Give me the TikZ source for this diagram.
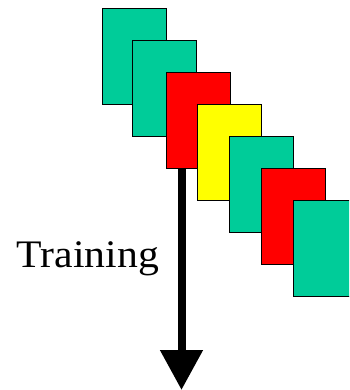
\documentclass[tikz,border=0pt]{standalone}
\usepackage{fontspec}
\setmainfont{Liberation Serif}
\usetikzlibrary{arrows.meta}
\definecolor{cardgreen}{RGB}{0,204,153}
\definecolor{cardred}{RGB}{255,0,0}
\definecolor{cardyellow}{RGB}{255,255,0}

\begin{document}
\begin{tikzpicture}[x=1pt,y=-1pt,
  card/.style={draw=black,line width=0.8pt,minimum width=64pt,minimum height=96pt,inner sep=0pt,anchor=north west}]
\useasboundingbox (0,0) rectangle (349,390);
\clip (0,0) rectangle (349,390);
% cascade of cards, later ones on top
\foreach \i/\x/\y/\c in {1/102.3/8.3/cardgreen,2/132.3/40.3/cardgreen,3/166.3/72.3/cardred,
  4/197.3/104.3/cardyellow,5/229.3/136.3/cardgreen,6/261.3/168.3/cardred,7/293.3/200.3/cardgreen}
  \node[card,fill=\c](c\i)at(\x,\y){};
\coordinate(tip)at(181.5,390);
\draw[line width=8pt,-{Triangle[width=41pt,length=40pt]}]([xshift=15.2pt]c3.south west)--(tip);
\node[font=\fontsize{39}{39}\selectfont,anchor=base west,xscale=1.07,inner sep=0pt](lbl)at(16.5,267.5){Training};
\end{tikzpicture}
\end{document}
